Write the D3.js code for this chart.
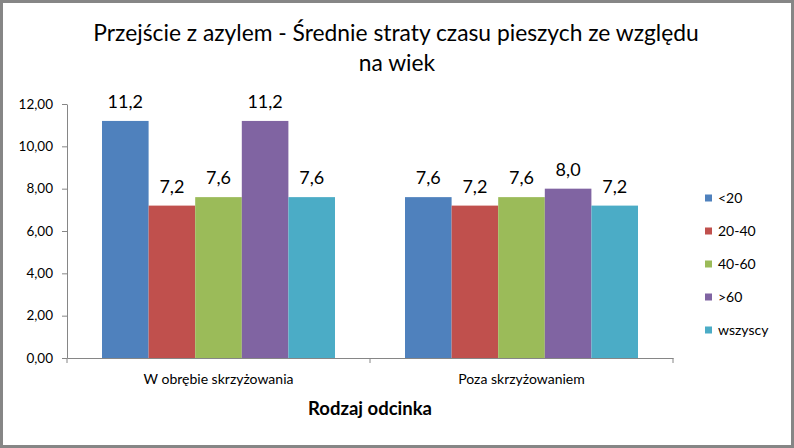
<!DOCTYPE html>
<html><head><meta charset="utf-8">
<script src="https://cdn.jsdelivr.net/npm/d3@7"></script>
<style>body{margin:0;background:#fff}svg{display:block}text{font-family:Lato,"Open Sans",sans-serif;fill:#000}</style>
</head><body><svg id="c" width="794" height="448"></svg>
<script>
const categories = ["W obrębie skrzyżowania", "Poza skrzyżowaniem"];
const seriesNames = ["<20", "20-40", "40-60", ">60", "wszyscy"];
const seriesValues = [
  [11.2, 7.6],
  [7.2, 7.2],
  [7.6, 7.6],
  [11.2, 8.0],
  [7.6, 7.2]
];
const colors = ["#4F81BD", "#C0504D", "#9BBB59", "#8064A2", "#4BACC6"];
const yTicks = [0, 2, 4, 6, 8, 10, 12];
const titleLines = ["Przejście z azylem - Średnie straty czasu pieszych ze względu", "na wiek"];
const xTitle = "Rodzaj odcinka";

const svg = d3.select("#c");
svg.append("rect").attr("x",1.5).attr("y",1.5).attr("width",791).attr("height",445).attr("fill","#fff").attr("stroke","#868686").attr("stroke-width",3);

const L=67,R=673,T=104,B=358;
const x0 = d3.scaleBand().domain(categories).range([L,R]).paddingInner(0).paddingOuter(0);
const x1 = d3.scaleBand().domain(seriesNames).range([35, x0.bandwidth()-35]).padding(0);
const y = d3.scaleLinear().domain([0,12]).range([B,T]);
const fmt = v => v.toFixed(2).replace(".", ",");
const fmt1 = v => v.toFixed(1).replace(".", ",");

// title
svg.append("text").attr("x",396).attr("y",41).attr("text-anchor","middle").style("font-size","22.8px").text(titleLines[0]);
svg.append("text").attr("x",397).attr("y",71).attr("text-anchor","middle").style("font-size","22.8px").text(titleLines[1]);

// y axis
const ya = svg.append("g").attr("transform",`translate(${L},0)`).call(d3.axisLeft(y).tickValues(yTicks).tickFormat(fmt).tickSize(5).tickSizeOuter(0));
ya.select(".domain").attr("stroke","#868686");
ya.selectAll(".tick line").attr("stroke","#868686");
ya.selectAll(".tick text").attr("x",-14).style("font-size","13.5px").style("font-family","Lato, sans-serif").attr("fill","#000");

// bars
const g = svg.append("g");
seriesNames.forEach((s,si)=>{
  categories.forEach((c,ci)=>{
    const v = seriesValues[si][ci];
    g.append("rect").attr("x",x0(c)+x1(s)).attr("y",y(v)).attr("width",x1.bandwidth()).attr("height",B-y(v)).attr("fill",colors[si]);
    g.append("text").attr("x",x0(c)+x1(s)+x1.bandwidth()/2).attr("y",y(v)-13).attr("text-anchor","middle").style("font-size","18px").text(fmt1(v));
  });
});

// x axis
const xa = svg.append("g").attr("transform",`translate(0,${B})`).call(d3.axisBottom(x0).tickSize(0).tickSizeOuter(0));
xa.select(".domain").attr("stroke","#868686");
xa.selectAll(".tick text").attr("dy",0).attr("y",26).style("font-size","14px").style("font-family","Lato, sans-serif").attr("fill","#000");
[L, x0(categories[1]), R].forEach(px=>{
  svg.append("line").attr("x1",px).attr("x2",px).attr("y1",B).attr("y2",B+5).attr("stroke","#868686");
});

svg.append("text").attr("x",370).attr("y",415).attr("text-anchor","middle").style("font-size","18.5px").style("font-weight","bold").text(xTitle);

// legend
const lg = svg.append("g");
seriesNames.forEach((s,i)=>{
  const yy = 198 + i*33;
  lg.append("rect").attr("x",705).attr("y",yy-3.5).attr("width",7).attr("height",7).attr("fill",colors[i]);
  lg.append("text").attr("x",718).attr("y",yy+5).style("font-size","14px").text(s);
});
</script></body></html>
